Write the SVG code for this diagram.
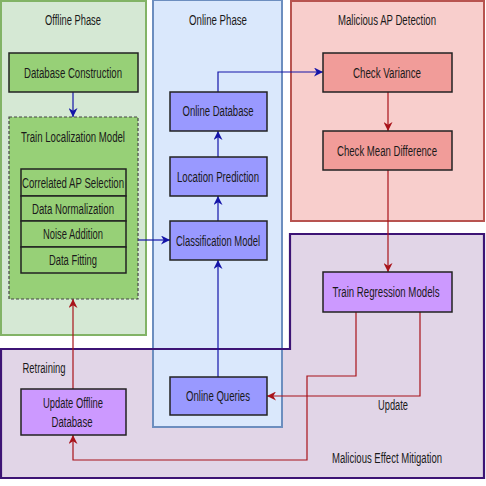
<svg xmlns="http://www.w3.org/2000/svg" width="486" height="486" viewBox="0 0 486 486">
<defs>
<style>
text{font-family:"Liberation Sans",Arial,sans-serif;font-size:14px;fill:#1a1a1a;text-anchor:middle}
.nd{stroke:#222;stroke-width:1.5}
.g{fill:#97d077}.b{fill:#9999ff}.r{fill:#f19c99}.p{fill:#cc99ff}
.cb{fill:none;stroke:#1414a8;stroke-width:1.2}
.cr{fill:none;stroke:#a8131a;stroke-width:1.2}
</style>
<marker id="ab" viewBox="0 0 10 10" refX="10" refY="5" markerWidth="9" markerHeight="9" markerUnits="userSpaceOnUse" orient="auto"><path d="M0,0 L10,5 L0,10 L3,5 z" fill="#1414a8"/></marker>
<marker id="ar" viewBox="0 0 10 10" refX="10" refY="5" markerWidth="9" markerHeight="9" markerUnits="userSpaceOnUse" orient="auto"><path d="M0,0 L10,5 L0,10 L3,5 z" fill="#a8131a"/></marker>
</defs>
<rect width="486" height="486" fill="#fff"/>
<g id="mitigation-bg"><path d="M290,234 H484 V478 H1 V349 H290 Z" fill="#e1d5e7"/></g>
<g id="offline-phase"><rect x="1" y="1" width="145" height="334" fill="#d5e8d4" stroke="#82b366" stroke-width="2"/><text x="73" y="25" textLength="56" lengthAdjust="spacingAndGlyphs">Offline Phase</text></g>
<g id="online-phase"><rect x="153" y="0" width="129" height="427" fill="#dae8fc" stroke="#6c8ebf" stroke-width="2"/><text x="218" y="25" textLength="58" lengthAdjust="spacingAndGlyphs">Online Phase</text></g>
<g id="detection"><rect x="291" y="1" width="193" height="220" fill="#f8cecc" stroke="#b85450" stroke-width="2"/><text x="387" y="25" textLength="98" lengthAdjust="spacingAndGlyphs">Malicious AP Detection</text></g>
<g id="mitigation"><path d="M290,234 H484 V478 H1 V349 H290 Z" fill="none" stroke="#3d1475" stroke-width="2.2"/><text x="387" y="463" textLength="110" lengthAdjust="spacingAndGlyphs">Malicious Effect Mitigation</text><text x="44" y="373" textLength="43" lengthAdjust="spacingAndGlyphs">Retraining</text></g>
<g id="connectors">
<path class="cb" d="M73,92 V117" marker-end="url(#ab)"/>
<path class="cb" d="M138,240 H170" marker-end="url(#ab)"/>
<path class="cb" d="M218,221 V196" marker-end="url(#ab)"/>
<path class="cb" d="M218,157 V131" marker-end="url(#ab)"/>
<path class="cb" d="M218,92 V72 H323" marker-end="url(#ab)"/>
<path class="cb" d="M218,377 V260" marker-end="url(#ab)"/>
<path class="cr" d="M388,92 V131" marker-end="url(#ar)"/>
<path class="cr" d="M388,170 V272" marker-end="url(#ar)"/>
<path class="cr" d="M356,312 V376 H307 V460 H73 V435" marker-end="url(#ar)"/>
<path class="cr" d="M420,312 V396 H267" marker-end="url(#ar)"/>
<path class="cr" d="M73,389 V299" marker-end="url(#ar)"/>
<text x="393" y="410" textLength="30" lengthAdjust="spacingAndGlyphs">Update</text>
</g>
<g id="database-construction"><rect class="nd g" x="9" y="53" width="129" height="39"/><text x="73" y="77.5" textLength="98" lengthAdjust="spacingAndGlyphs">Database Construction</text></g>
<g id="train-localization"><rect x="9" y="117" width="129" height="182" fill="#97d077" stroke="#444" stroke-width="1.2" stroke-dasharray="3,2"/><text x="73" y="141.5" textLength="104" lengthAdjust="spacingAndGlyphs">Train Localization Model</text>
<rect class="nd g" x="21" y="169" width="105" height="27"/><text x="73" y="187.5" textLength="102" lengthAdjust="spacingAndGlyphs">Correlated AP Selection</text>
<rect class="nd g" x="21" y="196" width="105" height="25"/><text x="73" y="213.5" textLength="82" lengthAdjust="spacingAndGlyphs">Data Normalization</text>
<rect class="nd g" x="21" y="221" width="105" height="26"/><text x="73" y="239" textLength="60" lengthAdjust="spacingAndGlyphs">Noise Addition</text>
<rect class="nd g" x="21" y="247" width="105" height="26"/><text x="73" y="265" textLength="48" lengthAdjust="spacingAndGlyphs">Data Fitting</text></g>
<g id="online-database"><rect class="nd b" x="170" y="92" width="97" height="39"/><text x="218" y="116" textLength="71" lengthAdjust="spacingAndGlyphs">Online Database</text></g>
<g id="location-prediction"><rect class="nd b" x="170" y="157" width="97" height="39"/><text x="218" y="181.5" textLength="82" lengthAdjust="spacingAndGlyphs">Location Prediction</text></g>
<g id="classification-model"><rect class="nd b" x="170" y="221" width="97" height="39"/><text x="218" y="245.5" textLength="84" lengthAdjust="spacingAndGlyphs">Classification Model</text></g>
<g id="online-queries"><rect class="nd b" x="170" y="377" width="97" height="38"/><text x="218" y="401" textLength="64" lengthAdjust="spacingAndGlyphs">Online Queries</text></g>
<g id="check-variance"><rect class="nd r" x="323" y="53" width="129" height="39"/><text x="387" y="77.5" textLength="68" lengthAdjust="spacingAndGlyphs">Check Variance</text></g>
<g id="check-mean"><rect class="nd r" x="323" y="131" width="129" height="39"/><text x="387" y="155.5" textLength="100" lengthAdjust="spacingAndGlyphs">Check Mean Difference</text></g>
<g id="train-regression"><rect class="nd p" x="323" y="272" width="129" height="40"/><text x="386" y="297" textLength="107" lengthAdjust="spacingAndGlyphs">Train Regression Models</text></g>
<g id="update-offline"><rect class="nd p" x="21" y="389" width="105" height="46"/><text x="73" y="408" textLength="60" lengthAdjust="spacingAndGlyphs">Update Offline</text><text x="72" y="427" textLength="41" lengthAdjust="spacingAndGlyphs">Database</text></g>
</svg>
